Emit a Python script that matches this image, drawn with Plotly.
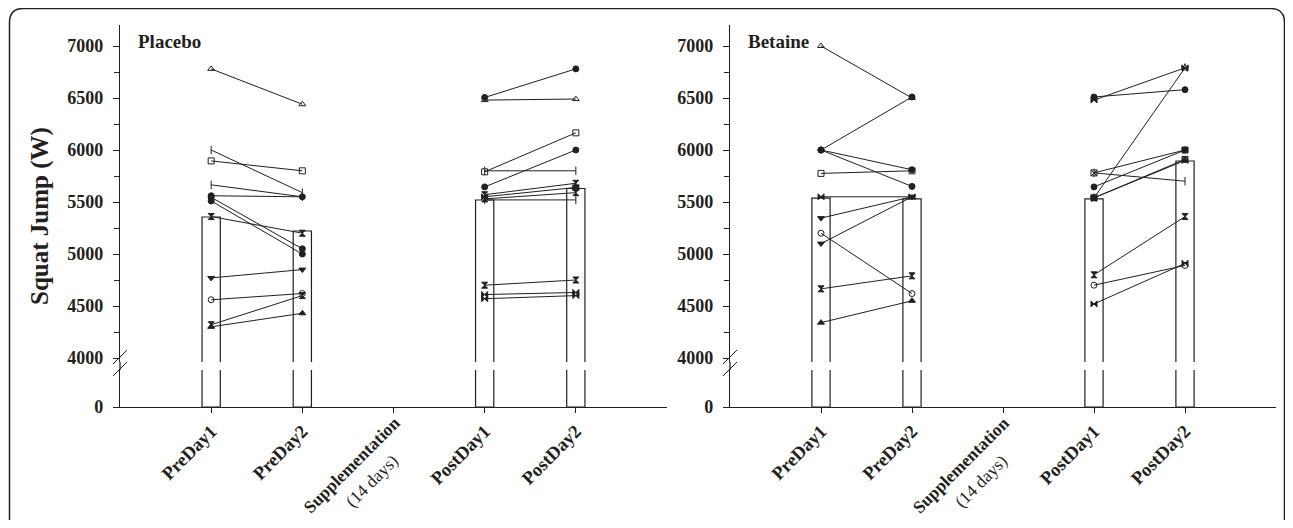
import plotly.graph_objects as go

# ---------------- data ----------------
categories = ["PreDay1", "PreDay2", "Supplementation", "PostDay1", "PostDay2"]
tick_labels = ["PreDay1", "PreDay2", "Supplementation", "PostDay1", "PostDay2"]
supp_note = "(14 days)"
panel_titles = ["Placebo", "Betaine"]
y_title = "Squat Jump (W)"

y_major = [4000, 4500, 5000, 5500, 6000, 6500, 7000]
y_low = [0]

placebo_mean = [5356, 5221, None, 5519, 5630]
betaine_mean = [5538, 5530, None, 5530, 5894]

placebo_pre1 = [6780, 6000, 5895, 5665, 5560, 5545, 5510, 5360, 4770, 4560, 4320, 4300]
placebo_pre2 = [6440, 5590, 5800, 5550, 5550, 5050, 5000, 5200, 4850, 4620, 4600, 4430]
placebo_post1 = [6505, 6480, 5790, 5800, 5645, 5570, 5550, 5530, 5520, 4700, 4610, 4570]
placebo_post2 = [6780, 6490, 6165, 5800, 6000, 5680, 5640, 5590, 5520, 4750, 4630, 4600]

betaine_pre1 = [7000, 6000, 6000, 6000, 5775, 5550, 5345, 5200, 5100, 4665, 4340]
betaine_pre2 = [6500, 6510, 5810, 5650, 5800, 5550, 5550, 4620, 5550, 4790, 4550]
betaine_post1 = [6510, 6480, 5780, 5780, 5645, 5540, 5540, 5540, 4800, 4700, 4520]
betaine_post2 = [6580, 6790, 5700, 6000, 6000, 6790, 5900, 5910, 5360, 4890, 4910]

# ---------------- styling ----------------
OFF = 8   # page body margin
W, H = 1293 - 2 * OFF, 528 - 2 * OFF
INK = "#231f20"
FONT = "Liberation Serif"

def px_x(p):
    return (p - OFF) / W

def px_y(p):
    return 1 - (p - OFF) / H

sym_placebo_pre = ["triangle-up-open", "line-ns-open", "square-open", "line-ns-open", "circle",
                   "circle", "circle", "hourglass", "triangle-down", "circle-open", "hourglass", "triangle-up"]
sym_placebo_post = ["circle", "triangle-up-open", "square-open", "line-ns-open", "circle",
                    "hourglass", "bowtie", "hourglass", "line-ns-open", "hourglass", "bowtie", "bowtie"]
sym_betaine_pre = ["triangle-up-open", "circle", "circle", "circle", "square-open", "bowtie",
                   "triangle-down", "circle-open", "triangle-down", "hourglass", "triangle-up"]
sym_betaine_post = ["circle", "bowtie", "line-ns-open", "square-x-open", "circle", "star-open",
                    "bowtie", "hourglass", "hourglass", "circle-open", "bowtie"]

panels = [
    dict(x0=120, x1=667, mean=placebo_mean, pre=(placebo_pre1, placebo_pre2), post=(placebo_post1, placebo_post2),
         sym_pre=sym_placebo_pre, sym_post=sym_placebo_post),
    dict(x0=730, x1=1276, mean=betaine_mean, pre=(betaine_pre1, betaine_pre2), post=(betaine_post1, betaine_post2),
         sym_pre=sym_betaine_pre, sym_post=sym_betaine_post),
]

TOP_Y0, TOP_Y1 = 362, 25      # px (bottom, top) of upper segment
LOW_Y0, LOW_Y1 = 407, 370     # px (bottom, top) of lower segment
PX_PER_UNIT = 52 / 500.0
top_range = [7000 - (TOP_Y0 - 46) / PX_PER_UNIT, 7000 + (46 - TOP_Y1) / PX_PER_UNIT]
low_range = [0, (LOW_Y0 - LOW_Y1) / PX_PER_UNIT]

# the long "Supplementation" label is drawn as an annotation so it can sit a bit higher
SUPP = "Supplementation"
axis_ticktext = ["" if t == SUPP else t for t in tick_labels]

fig = go.Figure()
layout = dict(
    width=W, height=H, margin=dict(l=0, r=0, t=0, b=0, autoexpand=False),
    paper_bgcolor="white", plot_bgcolor="rgba(0,0,0,0)",
    showlegend=False, font=dict(family=FONT, color=INK),
)
shapes, annotations = [], []

for k, p in enumerate(panels):
    xt, yt = 2 * k + 1, 2 * k + 1
    xb, yb = 2 * k + 2, 2 * k + 2
    def nm(prefix, n):
        return prefix if n == 1 else f"{prefix}{n}"
    xdom = [px_x(p["x0"]), px_x(p["x1"])]

    for (xa, ya) in [(xt, yt), (xb, yb)]:
        fig.add_trace(go.Bar(
            x=categories, y=p["mean"], width=0.2,
            marker=dict(color="white", line=dict(color=INK, width=1.2)),
            xaxis=nm("x", xa), yaxis=nm("y", ya), hoverinfo="skip", cliponaxis=True,
        ))

    for (a, b), cats, syms in [(p["pre"], ("PreDay1", "PreDay2"), p["sym_pre"]),
                               (p["post"], ("PostDay1", "PostDay2"), p["sym_post"])]:
        for i in range(len(a)):
            fig.add_trace(go.Scatter(
                x=list(cats), y=[a[i], b[i]], mode="lines+markers",
                line=dict(color=INK, width=1),
                marker=dict(symbol=syms[i % len(syms)], size=6, color=INK,
                            line=dict(color=INK, width=1)),
                xaxis=nm("x", xt), yaxis=nm("y", yt), cliponaxis=False,
            ))

    layout[nm("xaxis", xt)] = dict(domain=xdom, anchor=nm("y", yt), type="category",
                                   categoryorder="array", categoryarray=categories,
                                   range=[-1, 5], visible=False, automargin=False)
    layout[nm("yaxis", yt)] = dict(domain=[px_y(TOP_Y0), px_y(TOP_Y1)], anchor=nm("x", xt),
                                   range=top_range, tickvals=y_major, ticks="outside", ticklen=6,
                                   tickwidth=1, tickcolor=INK, showline=True, linecolor=INK, linewidth=1.3,
                                   showgrid=False, zeroline=False, ticklabelstandoff=6, automargin=False,
                                   minor=dict(dtick=250, tick0=0, ticks="outside", ticklen=5, tickcolor=INK, tickwidth=1),
                                   tickfont=dict(family=FONT, size=18, color=INK, weight="bold"))
    layout[nm("xaxis", xb)] = dict(domain=xdom, anchor=nm("y", yb), type="category",
                                   categoryorder="array", categoryarray=categories,
                                   range=[-1, 5], tickvals=categories, ticktext=axis_ticktext,
                                   ticks="outside", ticklen=5, tickcolor=INK, showline=True,
                                   linecolor=INK, linewidth=1.3, showgrid=False, tickangle=-45,
                                   automargin=False,
                                   tickfont=dict(family=FONT, size=18.5, color=INK, weight="bold"))
    layout[nm("yaxis", yb)] = dict(domain=[px_y(LOW_Y0), px_y(LOW_Y1)], anchor=nm("x", xb),
                                   range=low_range, tickvals=y_low, ticks="outside", ticklen=6,
                                   tickcolor=INK, showline=True, linecolor=INK, linewidth=1.3,
                                   showgrid=False, zeroline=False, ticklabelstandoff=6, automargin=False,
                                   tickfont=dict(family=FONT, size=18, color=INK, weight="bold"))

    ax = px_x(p["x0"])
    # connect axis line across the break
    shapes.append(dict(type="line", xref="paper", yref="paper", x0=ax, x1=ax,
                       y0=px_y(LOW_Y1), y1=px_y(TOP_Y0), line=dict(color=INK, width=1.3)))
    # break slashes
    for cy in (357, 369):
        shapes.append(dict(type="line", xref="paper", yref="paper",
                           x0=px_x(p["x0"] - 7), x1=px_x(p["x0"] + 7),
                           y0=px_y(cy + 7), y1=px_y(cy - 7), line=dict(color=INK, width=1)))

    annotations.append(dict(text=panel_titles[k], xref="paper", yref="paper",
                            x=px_x(p["x0"] + 16), y=px_y(41), xanchor="left", yanchor="middle",
                            showarrow=False, font=dict(family=FONT, size=19, color=INK, weight="bold")))
    annotations.append(dict(text=tick_labels[categories.index(SUPP)], xref=nm("x", xb), yref="paper",
                            x=SUPP, y=px_y(465), xshift=-42, textangle=-45,
                            xanchor="center", yanchor="middle",
                            showarrow=False, font=dict(family=FONT, size=17.5, color=INK, weight="bold")))
    annotations.append(dict(text=supp_note, xref=nm("x", xb), yref="paper",
                            x=SUPP, y=px_y(481), xshift=-22, textangle=-45,
                            xanchor="center", yanchor="middle",
                            showarrow=False, font=dict(family=FONT, size=17.5, color=INK)))

annotations.append(dict(text=y_title, xref="paper", yref="paper", x=px_x(40), y=px_y(216),
                        xanchor="center", yanchor="middle",
                        textangle=-90, showarrow=False,
                        font=dict(family=FONT, size=25, color=INK, weight="bold")))

# outer rounded frame (open at bottom)
r = 14
L, R, T, B = 9.5, 1284.5, 8.5, 560
path = (f"M {px_x(L)},{px_y(B)} L {px_x(L)},{px_y(T + r)} Q {px_x(L)},{px_y(T)} {px_x(L + r)},{px_y(T)} "
        f"L {px_x(R - r)},{px_y(T)} Q {px_x(R)},{px_y(T)} {px_x(R)},{px_y(T + r)} L {px_x(R)},{px_y(B)}")
shapes.append(dict(type="path", xref="paper", yref="paper", path=path, line=dict(color=INK, width=1.5)))

layout["shapes"] = shapes
layout["annotations"] = annotations
fig.update_layout(**layout)
fig.write_html("out.html")
